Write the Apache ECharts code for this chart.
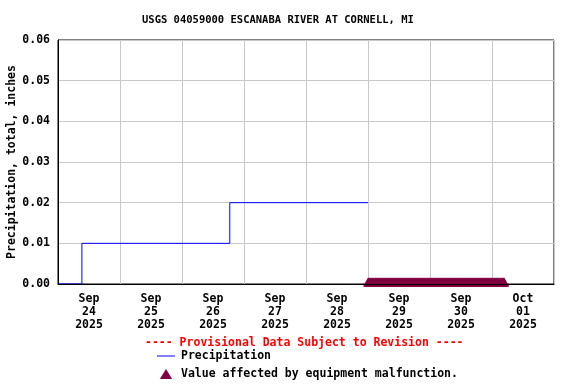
<!DOCTYPE html>
<html>
<head>
<meta charset="utf-8">
<script src="https://cdn.jsdelivr.net/npm/echarts@6/dist/echarts.min.js"></script>
<style>html,body{margin:0;padding:0;background:#fff}#c{width:576px;height:384px}</style>
</head>
<body>
<div id="c"></div>
<script>
const titleText = 'USGS 04059000 ESCANABA RIVER AT CORNELL, MI';
const yAxisTitle = 'Precipitation, total, inches';
const provisionalNote = '---- Provisional Data Subject to Revision ----';
const dayLabels = ['Sep\n24\n2025','Sep\n25\n2025','Sep\n26\n2025','Sep\n27\n2025','Sep\n28\n2025','Sep\n29\n2025','Sep\n30\n2025','Oct\n01\n2025'];
const axisStart = '2025-09-24 00:00';
const axisEnd = '2025-10-02 00:00';
const yTicks = [0, 0.01, 0.02, 0.03, 0.04, 0.05, 0.06];
// precipitation (cumulative, step)
const precipTimes = ['2025-09-24 00:00','2025-09-24 09:15','2025-09-26 18:30','2025-09-29 00:00'];
const precipValues = [0, 0.01, 0.02, 0.02];
// equipment malfunction flags (15-minute records, value 0)
const malfunctionTimes = [
'2025-09-29 00:00','2025-09-29 00:15','2025-09-29 00:30','2025-09-29 00:45','2025-09-29 01:00','2025-09-29 01:15','2025-09-29 01:30','2025-09-29 01:45',
'2025-09-29 02:00','2025-09-29 02:15','2025-09-29 02:30','2025-09-29 02:45','2025-09-29 03:00','2025-09-29 03:15','2025-09-29 03:30','2025-09-29 03:45',
'2025-09-29 04:00','2025-09-29 04:15','2025-09-29 04:30','2025-09-29 04:45','2025-09-29 05:00','2025-09-29 05:15','2025-09-29 05:30','2025-09-29 05:45',
'2025-09-29 06:00','2025-09-29 06:15','2025-09-29 06:30','2025-09-29 06:45','2025-09-29 07:00','2025-09-29 07:15','2025-09-29 07:30','2025-09-29 07:45',
'2025-09-29 08:00','2025-09-29 08:15','2025-09-29 08:30','2025-09-29 08:45','2025-09-29 09:00','2025-09-29 09:15','2025-09-29 09:30','2025-09-29 09:45',
'2025-09-29 10:00','2025-09-29 10:15','2025-09-29 10:30','2025-09-29 10:45','2025-09-29 11:00','2025-09-29 11:15','2025-09-29 11:30','2025-09-29 11:45',
'2025-09-29 12:00','2025-09-29 12:15','2025-09-29 12:30','2025-09-29 12:45','2025-09-29 13:00','2025-09-29 13:15','2025-09-29 13:30','2025-09-29 13:45',
'2025-09-29 14:00','2025-09-29 14:15','2025-09-29 14:30','2025-09-29 14:45','2025-09-29 15:00','2025-09-29 15:15','2025-09-29 15:30','2025-09-29 15:45',
'2025-09-29 16:00','2025-09-29 16:15','2025-09-29 16:30','2025-09-29 16:45','2025-09-29 17:00','2025-09-29 17:15','2025-09-29 17:30','2025-09-29 17:45',
'2025-09-29 18:00','2025-09-29 18:15','2025-09-29 18:30','2025-09-29 18:45','2025-09-29 19:00','2025-09-29 19:15','2025-09-29 19:30','2025-09-29 19:45',
'2025-09-29 20:00','2025-09-29 20:15','2025-09-29 20:30','2025-09-29 20:45','2025-09-29 21:00','2025-09-29 21:15','2025-09-29 21:30','2025-09-29 21:45',
'2025-09-29 22:00','2025-09-29 22:15','2025-09-29 22:30','2025-09-29 22:45','2025-09-29 23:00','2025-09-29 23:15','2025-09-29 23:30','2025-09-29 23:45',
'2025-09-30 00:00','2025-09-30 00:15','2025-09-30 00:30','2025-09-30 00:45','2025-09-30 01:00','2025-09-30 01:15','2025-09-30 01:30','2025-09-30 01:45',
'2025-09-30 02:00','2025-09-30 02:15','2025-09-30 02:30','2025-09-30 02:45','2025-09-30 03:00','2025-09-30 03:15','2025-09-30 03:30','2025-09-30 03:45',
'2025-09-30 04:00','2025-09-30 04:15','2025-09-30 04:30','2025-09-30 04:45','2025-09-30 05:00','2025-09-30 05:15','2025-09-30 05:30','2025-09-30 05:45',
'2025-09-30 06:00','2025-09-30 06:15','2025-09-30 06:30','2025-09-30 06:45','2025-09-30 07:00','2025-09-30 07:15','2025-09-30 07:30','2025-09-30 07:45',
'2025-09-30 08:00','2025-09-30 08:15','2025-09-30 08:30','2025-09-30 08:45','2025-09-30 09:00','2025-09-30 09:15','2025-09-30 09:30','2025-09-30 09:45',
'2025-09-30 10:00','2025-09-30 10:15','2025-09-30 10:30','2025-09-30 10:45','2025-09-30 11:00','2025-09-30 11:15','2025-09-30 11:30','2025-09-30 11:45',
'2025-09-30 12:00','2025-09-30 12:15','2025-09-30 12:30','2025-09-30 12:45','2025-09-30 13:00','2025-09-30 13:15','2025-09-30 13:30','2025-09-30 13:45',
'2025-09-30 14:00','2025-09-30 14:15','2025-09-30 14:30','2025-09-30 14:45','2025-09-30 15:00','2025-09-30 15:15','2025-09-30 15:30','2025-09-30 15:45',
'2025-09-30 16:00','2025-09-30 16:15','2025-09-30 16:30','2025-09-30 16:45','2025-09-30 17:00','2025-09-30 17:15','2025-09-30 17:30','2025-09-30 17:45',
'2025-09-30 18:00','2025-09-30 18:15','2025-09-30 18:30','2025-09-30 18:45','2025-09-30 19:00','2025-09-30 19:15','2025-09-30 19:30','2025-09-30 19:45',
'2025-09-30 20:00','2025-09-30 20:15','2025-09-30 20:30','2025-09-30 20:45','2025-09-30 21:00','2025-09-30 21:15','2025-09-30 21:30','2025-09-30 21:45',
'2025-09-30 22:00','2025-09-30 22:15','2025-09-30 22:30','2025-09-30 22:45','2025-09-30 23:00','2025-09-30 23:15','2025-09-30 23:30','2025-09-30 23:45',
'2025-10-01 00:00','2025-10-01 00:15','2025-10-01 00:30','2025-10-01 00:45','2025-10-01 01:00','2025-10-01 01:15','2025-10-01 01:30','2025-10-01 01:45',
'2025-10-01 02:00','2025-10-01 02:15','2025-10-01 02:30','2025-10-01 02:45','2025-10-01 03:00','2025-10-01 03:15','2025-10-01 03:30','2025-10-01 03:45',
'2025-10-01 04:00','2025-10-01 04:15','2025-10-01 04:30','2025-10-01 04:45'
];
const malfunctionValues = malfunctionTimes.map(() => 0);

const FONT = 'DejaVu Sans Mono';
const chart = echarts.init(document.getElementById('c'), null, {renderer: 'canvas'});
chart.setOption({
  animation: false,
  backgroundColor: '#fff',
  title: {
    text: titleText, left: 142, top: 15, padding: 0,
    textStyle: {fontFamily: FONT, fontWeight: 'bold', fontSize: 10.5, color: '#000'}
  },
  grid: {left: 58, right: 22, top: 40, bottom: 100, containLabel: false, outerBoundsMode: 'none',
         show: true, borderColor: '#000', borderWidth: 1, backgroundColor: 'transparent'},
  legend: {
    orient: 'vertical', left: 157, top: 350, itemWidth: 18, itemHeight: 10, itemGap: 6, padding: 0,
    symbolKeepAspect: true,
    data: [
      {name: 'Precipitation', icon: 'path://M0,0 L18,0 L18,1 L0,1 Z', itemStyle: {color: '#0000ff'}},
      {name: 'Value affected by equipment malfunction.', icon: 'path://M5.5,0 L11,9 L0,9 Z', itemStyle: {color: '#800040'}}
    ],
    textStyle: {fontFamily: FONT, fontWeight: 'bold', fontSize: 11.5, color: '#000', padding: [0,0,0,1]}
  },
  graphic: [{
    type: 'text', left: 145, top: 337,
    style: {text: provisionalNote, fill: '#ff0000', font: 'bold 11.5px "DejaVu Sans Mono"'}
  }],
  xAxis: [{
    type: 'time', min: axisStart, max: axisEnd,
    minInterval: 86400000, maxInterval: 86400000, interval: 86400000,
    axisLine: {show: false}, axisTick: {show: false}, axisLabel: {show: false},
    splitLine: {show: true, lineStyle: {color: '#c8c8c8', width: 1}}
  }, {
    type: 'category', data: dayLabels, position: 'bottom', boundaryGap: true, z: 5,
    axisLine: {show: true, lineStyle: {color: '#000', width: 1}},
    axisTick: {show: false}, splitLine: {show: false},
    axisLabel: {fontFamily: FONT, fontWeight: 'bold', fontSize: 11.5, color: '#000', lineHeight: 13, margin: 9, interval: 0}
  }],
  yAxis: {
    type: 'value', min: yTicks[0], max: yTicks[yTicks.length - 1], interval: 0.01,
    name: yAxisTitle, nameLocation: 'middle', nameGap: 40, nameMoveOverlap: false,
    nameTextStyle: {fontFamily: FONT, fontWeight: 'bold', fontSize: 11.5, color: '#000'},
    axisLine: {show: true, lineStyle: {color: '#000'}}, axisTick: {show: false},
    axisLabel: {fontFamily: FONT, fontWeight: 'bold', fontSize: 11.5, color: '#000', margin: 8, formatter: v => v.toFixed(2)},
    splitLine: {show: true, lineStyle: {color: '#c8c8c8', width: 1}}
  },
  series: [{
    name: 'Precipitation', type: 'line', xAxisIndex: 0, step: 'end', symbol: 'none',
    lineStyle: {color: '#0000ff', width: 1}, itemStyle: {color: '#0000ff'},
    data: precipTimes.map((t, i) => [t, precipValues[i]])
  }, {
    name: 'Value affected by equipment malfunction.', type: 'scatter', xAxisIndex: 0,
    symbol: 'triangle', symbolSize: [10, 9], symbolOffset: [0, -2],
    itemStyle: {color: '#800040', opacity: 1},
    data: malfunctionTimes.map((t, i) => [t, malfunctionValues[i]])
  }]
});
</script>
</body>
</html>
